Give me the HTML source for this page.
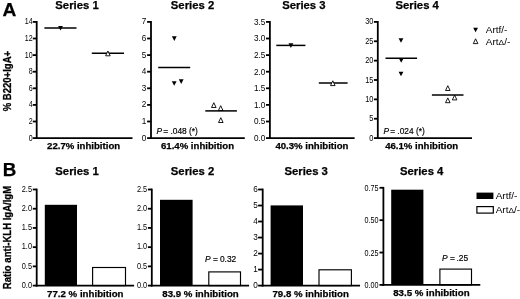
<!DOCTYPE html>
<html><head><meta charset="utf-8"><title>Figure</title>
<style>
html,body{margin:0;padding:0;background:#fff;}
body{width:520px;height:299px;overflow:hidden;}
svg{display:block;filter:blur(0.4px);font-family:'Liberation Sans', sans-serif;fill:#000;}
</style></head><body>
<svg width="520" height="299" viewBox="0 0 520 299">
<rect width="520" height="299" fill="#fff"/>
<text x="2.40" y="15.50" font-size="19.2" text-anchor="start" font-weight="bold" stroke="#000" stroke-width="0.25">A</text>
<text transform="translate(10.9,81.1) rotate(-90) scale(1,1.13)" font-size="9.55" font-weight="bold" stroke="#000" stroke-width="0.25" text-anchor="middle">% B220+IgA+</text>
<line x1="36.70" y1="21.00" x2="36.70" y2="139.00" stroke="#000" stroke-width="1.8"/>
<line x1="35.80" y1="138.10" x2="132.50" y2="138.10" stroke="#000" stroke-width="1.8"/>
<line x1="32.80" y1="138.10" x2="36.70" y2="138.10" stroke="#000" stroke-width="1.8"/>
<text transform="translate(32.60,140.60) scale(0.86,1)" font-size="8.2" text-anchor="end">0</text>
<line x1="32.80" y1="121.50" x2="36.70" y2="121.50" stroke="#000" stroke-width="1.8"/>
<text transform="translate(32.60,124.00) scale(0.86,1)" font-size="8.2" text-anchor="end">2</text>
<line x1="32.80" y1="104.90" x2="36.70" y2="104.90" stroke="#000" stroke-width="1.8"/>
<text transform="translate(32.60,107.40) scale(0.86,1)" font-size="8.2" text-anchor="end">4</text>
<line x1="32.80" y1="88.30" x2="36.70" y2="88.30" stroke="#000" stroke-width="1.8"/>
<text transform="translate(32.60,90.80) scale(0.86,1)" font-size="8.2" text-anchor="end">6</text>
<line x1="32.80" y1="71.70" x2="36.70" y2="71.70" stroke="#000" stroke-width="1.8"/>
<text transform="translate(32.60,74.20) scale(0.86,1)" font-size="8.2" text-anchor="end">8</text>
<line x1="32.80" y1="55.10" x2="36.70" y2="55.10" stroke="#000" stroke-width="1.8"/>
<text transform="translate(32.60,57.60) scale(0.86,1)" font-size="8.2" text-anchor="end">10</text>
<line x1="32.80" y1="38.50" x2="36.70" y2="38.50" stroke="#000" stroke-width="1.8"/>
<text transform="translate(32.60,41.00) scale(0.86,1)" font-size="8.2" text-anchor="end">12</text>
<line x1="32.80" y1="21.90" x2="36.70" y2="21.90" stroke="#000" stroke-width="1.8"/>
<text transform="translate(32.60,24.40) scale(0.86,1)" font-size="8.2" text-anchor="end">14</text>
<text x="77.00" y="8.60" font-size="11.3" text-anchor="middle" font-weight="bold" stroke="#000" stroke-width="0.25">Series 1</text>
<text x="83.60" y="149.20" font-size="9.6" text-anchor="middle" font-weight="bold" stroke="#000" stroke-width="0.25">22.7% inhibition</text>
<line x1="44.40" y1="28.10" x2="76.50" y2="28.10" stroke="#000" stroke-width="1.5"/>
<polygon points="58.10,26.00 62.90,26.00 60.50,30.60" fill="#000"/>
<line x1="91.80" y1="53.20" x2="124.00" y2="53.20" stroke="#000" stroke-width="1.5"/>
<polygon points="105.60,55.80 110.20,55.80 107.90,51.00" fill="#fff" stroke="#000" stroke-width="0.9"/>
<line x1="151.00" y1="21.00" x2="151.00" y2="139.00" stroke="#000" stroke-width="1.8"/>
<line x1="150.10" y1="138.10" x2="244.80" y2="138.10" stroke="#000" stroke-width="1.8"/>
<line x1="147.10" y1="138.10" x2="151.00" y2="138.10" stroke="#000" stroke-width="1.8"/>
<text transform="translate(146.40,140.60) scale(1.0,1)" font-size="8.2" text-anchor="end">0</text>
<line x1="147.10" y1="121.50" x2="151.00" y2="121.50" stroke="#000" stroke-width="1.8"/>
<text transform="translate(146.40,124.00) scale(1.0,1)" font-size="8.2" text-anchor="end">1</text>
<line x1="147.10" y1="104.90" x2="151.00" y2="104.90" stroke="#000" stroke-width="1.8"/>
<text transform="translate(146.40,107.40) scale(1.0,1)" font-size="8.2" text-anchor="end">2</text>
<line x1="147.10" y1="88.30" x2="151.00" y2="88.30" stroke="#000" stroke-width="1.8"/>
<text transform="translate(146.40,90.80) scale(1.0,1)" font-size="8.2" text-anchor="end">3</text>
<line x1="147.10" y1="71.70" x2="151.00" y2="71.70" stroke="#000" stroke-width="1.8"/>
<text transform="translate(146.40,74.20) scale(1.0,1)" font-size="8.2" text-anchor="end">4</text>
<line x1="147.10" y1="55.10" x2="151.00" y2="55.10" stroke="#000" stroke-width="1.8"/>
<text transform="translate(146.40,57.60) scale(1.0,1)" font-size="8.2" text-anchor="end">5</text>
<line x1="147.10" y1="38.50" x2="151.00" y2="38.50" stroke="#000" stroke-width="1.8"/>
<text transform="translate(146.40,41.00) scale(1.0,1)" font-size="8.2" text-anchor="end">6</text>
<line x1="147.10" y1="21.90" x2="151.00" y2="21.90" stroke="#000" stroke-width="1.8"/>
<text transform="translate(146.40,24.40) scale(1.0,1)" font-size="8.2" text-anchor="end">7</text>
<text x="192.50" y="8.60" font-size="11.3" text-anchor="middle" font-weight="bold" stroke="#000" stroke-width="0.25">Series 2</text>
<text x="197.50" y="149.20" font-size="9.6" text-anchor="middle" font-weight="bold" stroke="#000" stroke-width="0.25">61.4% inhibition</text>
<polygon points="171.90,36.30 176.70,36.30 174.30,40.90" fill="#000"/>
<polygon points="171.80,81.20 176.60,81.20 174.20,85.80" fill="#000"/>
<polygon points="178.80,79.30 183.60,79.30 181.20,83.90" fill="#000"/>
<line x1="158.20" y1="67.60" x2="190.20" y2="67.60" stroke="#000" stroke-width="1.5"/>
<polygon points="211.50,107.50 216.10,107.50 213.80,102.70" fill="#fff" stroke="#000" stroke-width="0.9"/>
<polygon points="218.40,110.50 223.00,110.50 220.70,105.70" fill="#fff" stroke="#000" stroke-width="0.9"/>
<polygon points="218.50,122.50 223.10,122.50 220.80,117.70" fill="#fff" stroke="#000" stroke-width="0.9"/>
<line x1="205.30" y1="110.90" x2="236.90" y2="110.90" stroke="#000" stroke-width="1.5"/>
<text transform="translate(156.5,134.4) scale(0.845,1)" font-size="9.9" stroke="#000" stroke-width="0.2"><tspan font-style="italic">P</tspan><tspan dx="-1.3"> = </tspan><tspan dx="-0.1">.048 (*)</tspan></text>
<line x1="269.90" y1="21.00" x2="269.90" y2="139.00" stroke="#000" stroke-width="1.8"/>
<line x1="269.00" y1="138.10" x2="354.60" y2="138.10" stroke="#000" stroke-width="1.8"/>
<line x1="266.00" y1="138.10" x2="269.90" y2="138.10" stroke="#000" stroke-width="1.8"/>
<text transform="translate(265.30,140.90) scale(1.0,1)" font-size="8.2" text-anchor="end">0.0</text>
<line x1="266.00" y1="121.50" x2="269.90" y2="121.50" stroke="#000" stroke-width="1.8"/>
<text transform="translate(265.30,124.30) scale(1.0,1)" font-size="8.2" text-anchor="end">0.5</text>
<line x1="266.00" y1="104.90" x2="269.90" y2="104.90" stroke="#000" stroke-width="1.8"/>
<text transform="translate(265.30,107.70) scale(1.0,1)" font-size="8.2" text-anchor="end">1.0</text>
<line x1="266.00" y1="88.30" x2="269.90" y2="88.30" stroke="#000" stroke-width="1.8"/>
<text transform="translate(265.30,91.10) scale(1.0,1)" font-size="8.2" text-anchor="end">1.5</text>
<line x1="266.00" y1="71.70" x2="269.90" y2="71.70" stroke="#000" stroke-width="1.8"/>
<text transform="translate(265.30,74.50) scale(1.0,1)" font-size="8.2" text-anchor="end">2.0</text>
<line x1="266.00" y1="55.10" x2="269.90" y2="55.10" stroke="#000" stroke-width="1.8"/>
<text transform="translate(265.30,57.90) scale(1.0,1)" font-size="8.2" text-anchor="end">2.5</text>
<line x1="266.00" y1="38.50" x2="269.90" y2="38.50" stroke="#000" stroke-width="1.8"/>
<text transform="translate(265.30,41.30) scale(1.0,1)" font-size="8.2" text-anchor="end">3.0</text>
<line x1="266.00" y1="21.90" x2="269.90" y2="21.90" stroke="#000" stroke-width="1.8"/>
<text transform="translate(265.30,24.70) scale(1.0,1)" font-size="8.2" text-anchor="end">3.5</text>
<text x="303.90" y="8.60" font-size="11.3" text-anchor="middle" font-weight="bold" stroke="#000" stroke-width="0.25">Series 3</text>
<text x="311.90" y="149.20" font-size="9.6" text-anchor="middle" font-weight="bold" stroke="#000" stroke-width="0.25">40.3% inhibition</text>
<line x1="276.30" y1="45.40" x2="305.40" y2="45.40" stroke="#000" stroke-width="1.5"/>
<polygon points="288.50,43.30 293.30,43.30 290.90,47.90" fill="#000"/>
<line x1="318.80" y1="83.00" x2="347.60" y2="83.00" stroke="#000" stroke-width="1.5"/>
<polygon points="330.50,85.60 335.10,85.60 332.80,80.80" fill="#fff" stroke="#000" stroke-width="0.9"/>
<line x1="377.80" y1="21.00" x2="377.80" y2="139.00" stroke="#000" stroke-width="1.8"/>
<line x1="376.90" y1="138.10" x2="472.00" y2="138.10" stroke="#000" stroke-width="1.8"/>
<line x1="373.90" y1="138.10" x2="377.80" y2="138.10" stroke="#000" stroke-width="1.8"/>
<text transform="translate(373.40,140.60) scale(0.9,1)" font-size="8.2" text-anchor="end">0</text>
<line x1="373.90" y1="118.73" x2="377.80" y2="118.73" stroke="#000" stroke-width="1.8"/>
<text transform="translate(373.40,121.23) scale(0.9,1)" font-size="8.2" text-anchor="end">5</text>
<line x1="373.90" y1="99.37" x2="377.80" y2="99.37" stroke="#000" stroke-width="1.8"/>
<text transform="translate(373.40,101.87) scale(0.9,1)" font-size="8.2" text-anchor="end">10</text>
<line x1="373.90" y1="80.00" x2="377.80" y2="80.00" stroke="#000" stroke-width="1.8"/>
<text transform="translate(373.40,82.50) scale(0.9,1)" font-size="8.2" text-anchor="end">15</text>
<line x1="373.90" y1="60.63" x2="377.80" y2="60.63" stroke="#000" stroke-width="1.8"/>
<text transform="translate(373.40,63.13) scale(0.9,1)" font-size="8.2" text-anchor="end">20</text>
<line x1="373.90" y1="41.27" x2="377.80" y2="41.27" stroke="#000" stroke-width="1.8"/>
<text transform="translate(373.40,43.77) scale(0.9,1)" font-size="8.2" text-anchor="end">25</text>
<line x1="373.90" y1="21.90" x2="377.80" y2="21.90" stroke="#000" stroke-width="1.8"/>
<text transform="translate(373.40,24.40) scale(0.9,1)" font-size="8.2" text-anchor="end">30</text>
<text x="417.20" y="8.60" font-size="11.3" text-anchor="middle" font-weight="bold" stroke="#000" stroke-width="0.25">Series 4</text>
<text x="421.70" y="149.20" font-size="9.6" text-anchor="middle" font-weight="bold" stroke="#000" stroke-width="0.25">46.1% inhibition</text>
<polygon points="398.60,38.20 403.40,38.20 401.00,42.80" fill="#000"/>
<polygon points="398.80,58.20 403.60,58.20 401.20,62.80" fill="#000"/>
<polygon points="398.60,71.70 403.40,71.70 401.00,76.30" fill="#000"/>
<line x1="385.50" y1="58.20" x2="417.10" y2="58.20" stroke="#000" stroke-width="1.5"/>
<polygon points="445.50,90.50 450.10,90.50 447.80,85.70" fill="#fff" stroke="#000" stroke-width="0.9"/>
<polygon points="445.50,102.70 450.10,102.70 447.80,97.90" fill="#fff" stroke="#000" stroke-width="0.9"/>
<polygon points="452.30,99.90 456.90,99.90 454.60,95.10" fill="#fff" stroke="#000" stroke-width="0.9"/>
<line x1="431.90" y1="95.00" x2="463.50" y2="95.00" stroke="#000" stroke-width="1.5"/>
<text transform="translate(383.4,133.7) scale(0.845,1)" font-size="9.9" stroke="#000" stroke-width="0.2"><tspan font-style="italic">P</tspan><tspan dx="-1.3"> = </tspan><tspan dx="-0.1">.024 (*)</tspan></text>
<polygon points="473.20,27.70 478.00,27.70 475.60,32.30" fill="#000"/>
<text transform="translate(485.8,32.7) scale(1,0.92)" font-size="10">Artf/-</text>
<polygon points="473.30,43.60 477.90,43.60 475.60,38.80" fill="#fff" stroke="#000" stroke-width="0.9"/>
<text transform="translate(485.8,44.7) scale(1,0.92)" font-size="10">Art<tspan font-size="8.4">&#916;</tspan>/-</text>
<text x="2.70" y="176.10" font-size="18.8" text-anchor="start" font-weight="bold" stroke="#000" stroke-width="0.25">B</text>
<text transform="translate(11.0,237.5) rotate(-90) scale(1,1.13)" font-size="9.55" font-weight="bold" stroke="#000" stroke-width="0.25" text-anchor="middle">Ratio anti-KLH IgA/IgM</text>
<rect x="44.80" y="204.80" width="32.20" height="80.80" fill="#000"/>
<rect x="92.60" y="267.50" width="32.90" height="18.10" fill="#fff" stroke="#000" stroke-width="1.15"/>
<line x1="36.70" y1="188.60" x2="36.70" y2="286.50" stroke="#000" stroke-width="1.8"/>
<line x1="35.80" y1="285.60" x2="134.10" y2="285.60" stroke="#000" stroke-width="1.8"/>
<line x1="32.80" y1="285.60" x2="36.70" y2="285.60" stroke="#000" stroke-width="1.8"/>
<text transform="translate(32.00,287.90) scale(0.9,1)" font-size="8.2" text-anchor="end">0.0</text>
<line x1="32.80" y1="266.38" x2="36.70" y2="266.38" stroke="#000" stroke-width="1.8"/>
<text transform="translate(32.00,268.68) scale(0.9,1)" font-size="8.2" text-anchor="end">0.5</text>
<line x1="32.80" y1="247.16" x2="36.70" y2="247.16" stroke="#000" stroke-width="1.8"/>
<text transform="translate(32.00,249.46) scale(0.9,1)" font-size="8.2" text-anchor="end">1.0</text>
<line x1="32.80" y1="227.94" x2="36.70" y2="227.94" stroke="#000" stroke-width="1.8"/>
<text transform="translate(32.00,230.24) scale(0.9,1)" font-size="8.2" text-anchor="end">1.5</text>
<line x1="32.80" y1="208.72" x2="36.70" y2="208.72" stroke="#000" stroke-width="1.8"/>
<text transform="translate(32.00,211.02) scale(0.9,1)" font-size="8.2" text-anchor="end">2.0</text>
<line x1="32.80" y1="189.50" x2="36.70" y2="189.50" stroke="#000" stroke-width="1.8"/>
<text transform="translate(32.00,191.80) scale(0.9,1)" font-size="8.2" text-anchor="end">2.5</text>
<text x="77.00" y="175.10" font-size="11.3" text-anchor="middle" font-weight="bold" stroke="#000" stroke-width="0.25">Series 1</text>
<text x="85.30" y="296.80" font-size="9.7" text-anchor="middle" font-weight="bold" stroke="#000" stroke-width="0.25">77.2 % inhibition</text>
<rect x="160.00" y="199.80" width="32.60" height="85.80" fill="#000"/>
<rect x="208.80" y="271.90" width="31.70" height="13.70" fill="#fff" stroke="#000" stroke-width="1.15"/>
<line x1="151.80" y1="188.60" x2="151.80" y2="286.50" stroke="#000" stroke-width="1.8"/>
<line x1="150.90" y1="285.60" x2="249.10" y2="285.60" stroke="#000" stroke-width="1.8"/>
<line x1="147.90" y1="285.60" x2="151.80" y2="285.60" stroke="#000" stroke-width="1.8"/>
<text transform="translate(147.20,287.90) scale(0.9,1)" font-size="8.2" text-anchor="end">0.0</text>
<line x1="147.90" y1="266.38" x2="151.80" y2="266.38" stroke="#000" stroke-width="1.8"/>
<text transform="translate(147.20,268.68) scale(0.9,1)" font-size="8.2" text-anchor="end">0.5</text>
<line x1="147.90" y1="247.16" x2="151.80" y2="247.16" stroke="#000" stroke-width="1.8"/>
<text transform="translate(147.20,249.46) scale(0.9,1)" font-size="8.2" text-anchor="end">1.0</text>
<line x1="147.90" y1="227.94" x2="151.80" y2="227.94" stroke="#000" stroke-width="1.8"/>
<text transform="translate(147.20,230.24) scale(0.9,1)" font-size="8.2" text-anchor="end">1.5</text>
<line x1="147.90" y1="208.72" x2="151.80" y2="208.72" stroke="#000" stroke-width="1.8"/>
<text transform="translate(147.20,211.02) scale(0.9,1)" font-size="8.2" text-anchor="end">2.0</text>
<line x1="147.90" y1="189.50" x2="151.80" y2="189.50" stroke="#000" stroke-width="1.8"/>
<text transform="translate(147.20,191.80) scale(0.9,1)" font-size="8.2" text-anchor="end">2.5</text>
<text x="192.50" y="175.10" font-size="11.3" text-anchor="middle" font-weight="bold" stroke="#000" stroke-width="0.25">Series 2</text>
<text x="200.50" y="296.80" font-size="9.7" text-anchor="middle" font-weight="bold" stroke="#000" stroke-width="0.25">83.9 % inhibition</text>
<text transform="translate(204.9,262.2) scale(0.85,1)" font-size="9.9" stroke="#000" stroke-width="0.2"><tspan font-style="italic">P</tspan><tspan dx="0.2"> = </tspan><tspan dx="-0.4">0.32</tspan></text>
<rect x="270.60" y="205.40" width="32.40" height="80.20" fill="#000"/>
<rect x="319.00" y="269.80" width="32.40" height="15.80" fill="#fff" stroke="#000" stroke-width="1.15"/>
<line x1="262.70" y1="188.60" x2="262.70" y2="286.50" stroke="#000" stroke-width="1.8"/>
<line x1="261.80" y1="285.60" x2="360.00" y2="285.60" stroke="#000" stroke-width="1.8"/>
<line x1="258.10" y1="285.60" x2="262.70" y2="285.60" stroke="#000" stroke-width="1.8"/>
<text transform="translate(257.80,287.90) scale(1.0,1)" font-size="8.2" text-anchor="end">0</text>
<line x1="258.10" y1="269.58" x2="262.70" y2="269.58" stroke="#000" stroke-width="1.8"/>
<text transform="translate(257.80,271.88) scale(1.0,1)" font-size="8.2" text-anchor="end">1</text>
<line x1="258.10" y1="253.57" x2="262.70" y2="253.57" stroke="#000" stroke-width="1.8"/>
<text transform="translate(257.80,255.87) scale(1.0,1)" font-size="8.2" text-anchor="end">2</text>
<line x1="258.10" y1="237.55" x2="262.70" y2="237.55" stroke="#000" stroke-width="1.8"/>
<text transform="translate(257.80,239.85) scale(1.0,1)" font-size="8.2" text-anchor="end">3</text>
<line x1="258.10" y1="221.53" x2="262.70" y2="221.53" stroke="#000" stroke-width="1.8"/>
<text transform="translate(257.80,223.83) scale(1.0,1)" font-size="8.2" text-anchor="end">4</text>
<line x1="258.10" y1="205.52" x2="262.70" y2="205.52" stroke="#000" stroke-width="1.8"/>
<text transform="translate(257.80,207.82) scale(1.0,1)" font-size="8.2" text-anchor="end">5</text>
<line x1="258.10" y1="189.50" x2="262.70" y2="189.50" stroke="#000" stroke-width="1.8"/>
<text transform="translate(257.80,191.80) scale(1.0,1)" font-size="8.2" text-anchor="end">6</text>
<text x="306.20" y="175.10" font-size="11.3" text-anchor="middle" font-weight="bold" stroke="#000" stroke-width="0.25">Series 3</text>
<text x="310.70" y="296.80" font-size="9.7" text-anchor="middle" font-weight="bold" stroke="#000" stroke-width="0.25">79.8 % inhibition</text>
<rect x="391.20" y="189.70" width="32.20" height="95.20" fill="#000"/>
<rect x="439.90" y="269.10" width="31.60" height="15.80" fill="#fff" stroke="#000" stroke-width="1.15"/>
<line x1="383.40" y1="186.90" x2="383.40" y2="285.80" stroke="#000" stroke-width="1.8"/>
<line x1="382.50" y1="284.90" x2="480.30" y2="284.90" stroke="#000" stroke-width="1.8"/>
<line x1="379.50" y1="284.90" x2="383.40" y2="284.90" stroke="#000" stroke-width="1.8"/>
<text transform="translate(378.40,287.90) scale(0.8,1)" font-size="9.0" text-anchor="end">0.00</text>
<line x1="379.50" y1="252.53" x2="383.40" y2="252.53" stroke="#000" stroke-width="1.8"/>
<text transform="translate(378.40,255.53) scale(0.8,1)" font-size="9.0" text-anchor="end">0.25</text>
<line x1="379.50" y1="220.17" x2="383.40" y2="220.17" stroke="#000" stroke-width="1.8"/>
<text transform="translate(378.40,223.17) scale(0.8,1)" font-size="9.0" text-anchor="end">0.50</text>
<line x1="379.50" y1="187.80" x2="383.40" y2="187.80" stroke="#000" stroke-width="1.8"/>
<text transform="translate(378.40,190.80) scale(0.8,1)" font-size="9.0" text-anchor="end">0.75</text>
<text x="421.70" y="175.10" font-size="11.3" text-anchor="middle" font-weight="bold" stroke="#000" stroke-width="0.25">Series 4</text>
<text x="431.40" y="296.30" font-size="9.7" text-anchor="middle" font-weight="bold" stroke="#000" stroke-width="0.25">83.5 % inhibition</text>
<text transform="translate(442,260.6) scale(0.845,1)" font-size="9.9" stroke="#000" stroke-width="0.2"><tspan font-style="italic">P</tspan><tspan dx="0"> = </tspan><tspan dx="-0.7">.25</tspan></text>
<rect x="476.5" y="192.6" width="16.9" height="6.4" fill="#000"/>
<text transform="translate(495.7,198.6) scale(1,0.92)" font-size="10">Artf/-</text>
<rect x="476.9" y="206.6" width="16.4" height="6.5" fill="#fff" stroke="#000" stroke-width="1.2"/>
<text transform="translate(495.7,213.1) scale(1,0.92)" font-size="10">Art<tspan font-size="8.4">&#916;</tspan>/-</text>
</svg>
</body></html>
